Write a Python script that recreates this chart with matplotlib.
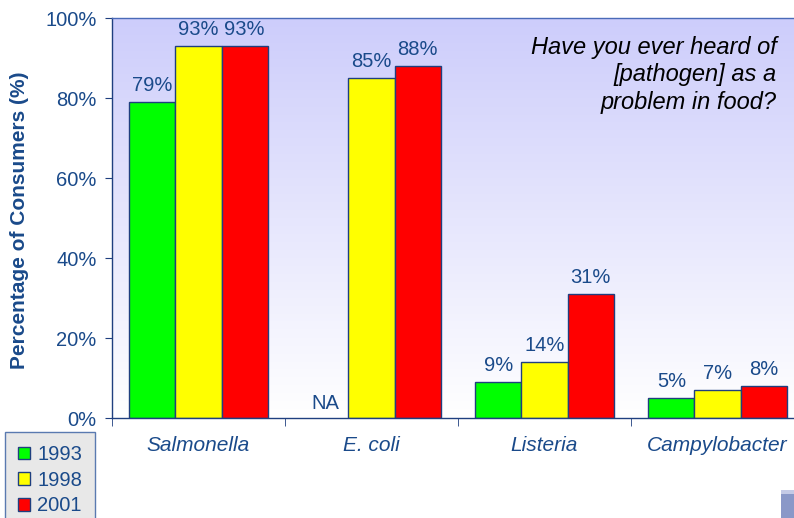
import matplotlib
matplotlib.use("Agg")
import matplotlib.pyplot as plt
import numpy as np
from matplotlib.patches import Patch, Rectangle
from matplotlib.colors import LinearSegmentedColormap

categories = ["Salmonella", "E. coli", "Listeria", "Campylobacter"]
years = ["1993", "1998", "2001"]
v1993 = [79, None, 9, 5]
v1998 = [93, 85, 14, 7]
v2001 = [93, 88, 31, 8]
yticks = [0, 20, 40, 60, 80, 100]
colors = ["#00ff00", "#ffff00", "#ff0000"]
txt = "#1a4a8a"
edge = "#1f3f7f"

plt.rcParams['font.family'] = ['Liberation Sans', 'DejaVu Sans']
fig = plt.figure(figsize=(7.94, 5.18), dpi=100)
ax = fig.add_axes([112/794, 1-418/518, (804-112)/794, 400/518])

# gradient background
grad = np.linspace(0, 1, 256).reshape(-1, 1)
cmap = LinearSegmentedColormap.from_list("bg", ["#ffffff", "#cdcdfb"])
ax.imshow(grad, aspect='auto', cmap=cmap, extent=[0, 1, 0, 1],
          transform=ax.transAxes, origin='lower', zorder=0)

x = np.arange(len(categories))
w = 0.266
series = [v1993, v1998, v2001]
for i, (vals, c) in enumerate(zip(series, colors)):
    for j, v in enumerate(vals):
        xpos = x[j] + (i - 1) * w
        if v is None:
            ax.text(xpos, 1.2, "NA", ha='center', va='bottom', color=txt, fontsize=14.5)
            continue
        ax.bar(xpos, v, width=w, color=c, edgecolor=edge, linewidth=1.0, zorder=2)
        ax.text(xpos, v + 1.8, f"{v}%", ha='center', va='bottom', color=txt, fontsize=14.5)

ax.set_xlim(-0.5, len(categories) - 0.5)
ax.set_ylim(0, 100)
ax.set_yticks(yticks)
ax.set_yticklabels([f"{t}%" for t in yticks], color=txt, fontsize=14.5)
ax.set_xticks(x)
ax.set_xticklabels(categories, style='italic', color=txt, fontsize=15)
ax.tick_params(axis='x', length=0, pad=13)
ax.set_xticks(np.arange(len(categories) + 1) - 0.5, minor=True)
ax.tick_params(axis='x', which='minor', length=6, color=edge, direction='out')
ax.tick_params(axis='y', length=5, color=edge, direction='out', pad=6)
for s in ['left', 'bottom']:
    ax.spines[s].set_color(edge)
    ax.spines[s].set_linewidth(1.0)
ax.spines['top'].set_color("#4a6ab8")
ax.spines['top'].set_linewidth(1.0)
ax.spines['right'].set_visible(False)

fig.text(20/794, 1-220/518, "Percentage of Consumers (%)", rotation=90, ha='center',
         va='center', color=txt, fontsize=15, fontweight='bold')

fig.text(777/794, 1-75/518, "Have you ever heard of\n[pathogen] as a\nproblem in food?",
         ha='right', va='center', fontsize=17, style='italic',
         color='black', linespacing=1.25)

handles = [Patch(facecolor=c, edgecolor=edge, label=y) for c, y in zip(colors, years)]
leg = fig.legend(handles=handles, loc='upper left', bbox_to_anchor=(5/794, 1-432/518),
                 fontsize=14.5, frameon=True, fancybox=False, handlelength=0.6,
                 handleheight=0.6, handletextpad=0.35, labelspacing=0.33, borderpad=0.65,
                 borderaxespad=0, labelcolor=txt)
leg.get_frame().set_facecolor("#e8e8e8")
leg.get_frame().set_edgecolor("#5a7ab0")
leg.get_frame().set_alpha(1)

# small image fragment at bottom right
fig.patches.append(Rectangle((781/794, 0), 13/794, 27/518, transform=fig.transFigure,
                             facecolor="#8a98c8", edgecolor="none"))
fig.patches.append(Rectangle((781/794, 24/518), 13/794, 4/518, transform=fig.transFigure,
                             facecolor="#c4cae6", edgecolor="none"))

fig.savefig("out.png", dpi=100)
